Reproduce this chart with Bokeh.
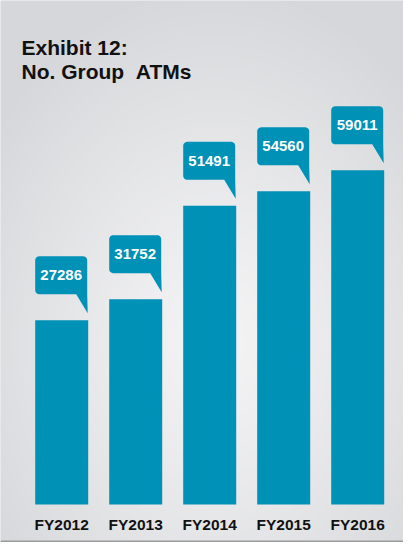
import numpy as np
from bokeh.plotting import figure
from bokeh.models import Range1d, FixedTicker, Span
from bokeh.core.properties import value
from bokeh.embed import file_html
from bokeh.resources import INLINE

# ---- data -------------------------------------------------------------
years = ["FY2012", "FY2013", "FY2014", "FY2015", "FY2016"]
atms = [27286, 31752, 51491, 54560, 59011]
title_lines = ["Exhibit 12:", "No. Group  ATMs"]

# ---- layout / style ---------------------------------------------------
W, H = 403, 542
BAR = "#0091b6"
BASE = -11700        # value at the bars' baseline (bars do not start at zero)
UPP = 211.6          # value units per screen pixel
XPP = 1 / 74.0       # category units per screen pixel
BASE_PX = 38         # baseline height above frame bottom (px)
LEFT_PX = 61.2       # first bar centre from frame left (px)

ystart = BASE - BASE_PX * UPP
yend = ystart + H * UPP
xstart = -LEFT_PX * XPP
xend = xstart + W * XPP

p = figure(width=W, height=H, output_backend="svg", toolbar_location=None,
           x_range=Range1d(xstart, xend), y_range=Range1d(ystart, yend),
           min_border=0, min_border_left=0, min_border_right=0,
           min_border_top=0, min_border_bottom=0)
p.background_fill_color = "#dcdddf"
p.border_fill_color = "#dcdddf"
p.outline_line_color = None
p.grid.visible = False
p.yaxis.visible = False

# radial grey background
gh, gw = H // 2 + 1, W // 2 + 1
yy, xx = np.mgrid[0:gh, 0:gw]
sx, sy = xx * 2.0, yy * 2.0
cx, cy = 215.0, 340.0
t = np.clip(np.sqrt(((sx - cx) / 280.0) ** 2 + ((sy - cy) / 360.0) ** 2), 0, 1) ** 1.2
c0 = np.array([244, 244, 245], dtype=float)
c1 = np.array([214, 215, 218], dtype=float)
img = np.empty((gh, gw), dtype=np.uint32)
view = img.view(dtype=np.uint8).reshape((gh, gw, 4))
for k in range(3):
    view[:, :, k] = (c0[k] + (c1[k] - c0[k]) * t).astype(np.uint8)
view[:, :, 3] = 255
img = np.ascontiguousarray(img[::-1])
p.image_rgba(image=[img], x=xstart, y=ystart, dw=xend - xstart, dh=yend - ystart)

xs = list(range(len(years)))

# bars
p.vbar(x=xs, top=atms, bottom=BASE, width=53 * XPP, fill_color=BAR, line_color=None)

# callouts
def callout(xc, top):
    L, R = -26.5, 25.5
    T, B = 64.0, 26.0
    tip, tail, r = 7.0, 11.0, 4.0
    pts = []
    for a in np.radians(np.linspace(180, 90, 7)):
        pts.append((L + r + r * np.cos(a), T - r + r * np.sin(a)))
    for a in np.radians(np.linspace(90, 0, 7)):
        pts.append((R - r + r * np.cos(a), T - r + r * np.sin(a)))
    pts.append((R, B))
    pts.append((R + 0.5, tip))
    pts.append((R - tail, B))
    for a in np.radians(np.linspace(270, 180, 7)):
        pts.append((L + r + r * np.cos(a), B + r + r * np.sin(a)))
    return ([xc + px * XPP for px, py in pts], [top + py * UPP for px, py in pts])

pxs, pys = [], []
for xc, v in zip(xs, atms):
    a, b = callout(xc, v)
    pxs.append(a)
    pys.append(b)
p.patches(pxs, pys, fill_color=BAR, line_color=None)

p.text(x=[x - 0.5 * XPP for x in xs], y=[v + 45 * UPP for v in atms],
       text=[str(v) for v in atms], text_align="center", text_baseline="middle",
       text_color="white", text_font=value("Liberation Sans"),
       text_font_style="bold", text_font_size="15px")

# title (keep the double space visible)
p.text(x=[xstart + 21 * XPP] * len(title_lines),
       y=[yend - (47 + 24 * i) * UPP for i in range(len(title_lines))],
       text=[s.replace("  ", " \u00a0") for s in title_lines],
       text_align="left", text_baseline="alphabetic",
       text_color="#111111", text_font=value("Liberation Sans"),
       text_font_style="bold", text_font_size="21px")

# category axis
ax = p.xaxis[0]
ax.fixed_location = BASE
ax.ticker = FixedTicker(ticks=xs)
ax.major_label_overrides = {i: y for i, y in enumerate(years)}
ax.axis_line_color = None
ax.major_tick_line_color = None
ax.minor_tick_line_color = None
ax.major_label_standoff = 5
ax.major_label_text_font = "Liberation Sans"
ax.major_label_text_font_style = "bold"
ax.major_label_text_font_size = "15.5px"
ax.major_label_text_color = "#111111"

# bottom rule
p.add_layout(Span(location=ystart + 1 * UPP, dimension="width",
                  line_color="#9b9b9b", line_width=2))

open("out.html", "w").write(file_html(p, INLINE))
